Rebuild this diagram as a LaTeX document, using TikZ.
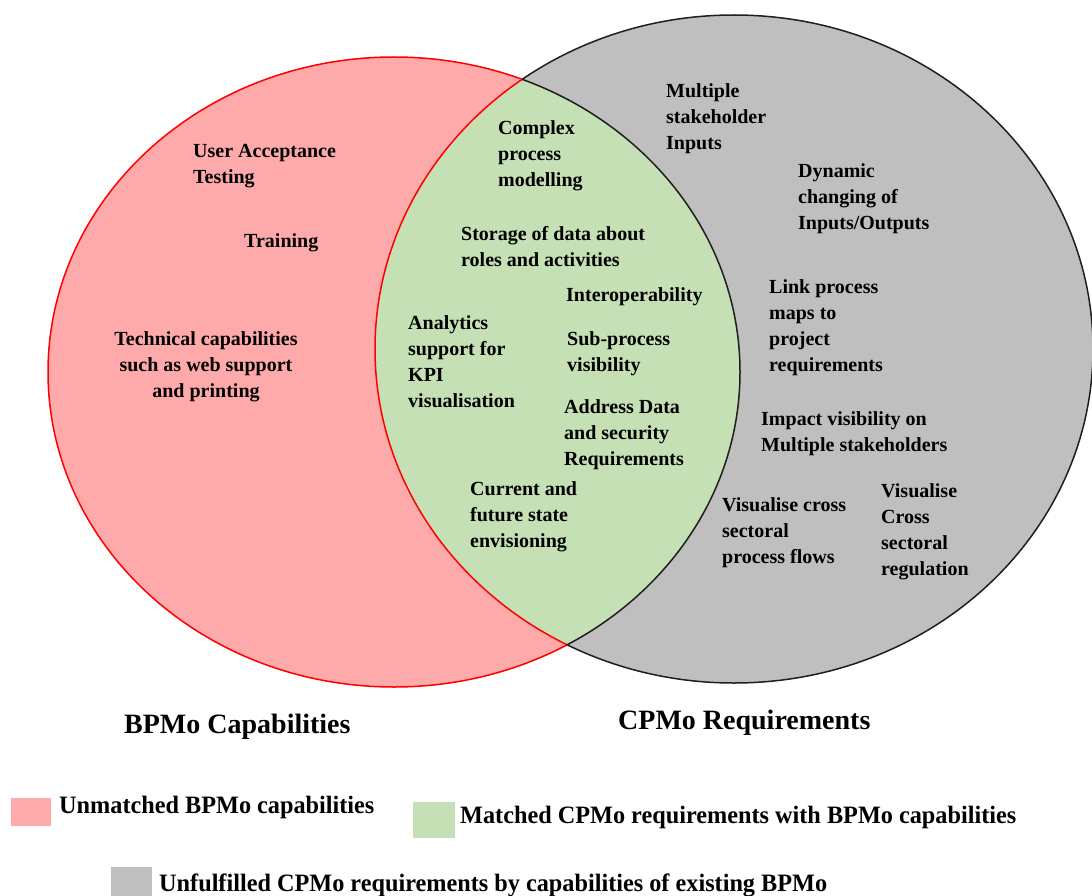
\documentclass[tikz,border=0pt]{standalone}
\usepackage{fontspec}
\setmainfont{Liberation Serif}
\definecolor{pinkc}{RGB}{255,170,170}
\definecolor{greenc}{RGB}{197,224,180}
\definecolor{grayc}{RGB}{191,191,191}
\definecolor{darkc}{RGB}{30,30,30}
\begin{document}
\begin{tikzpicture}[x=1pt,y=-1pt,
  edge/.style={line width=1.5pt},
  lbl/.style={anchor=north west, inner sep=0pt, align=left, font=\bfseries\fontsize{20}{26}\selectfont},
  lblc/.style={anchor=north, inner sep=0pt, align=center, font=\bfseries\fontsize{20}{26}\selectfont},
  title/.style={anchor=base west, inner sep=0pt, font=\bfseries\fontsize{28}{32}\selectfont},
  legtxt/.style={anchor=base west, inner sep=0pt, font=\bfseries\fontsize{25}{30}\selectfont\addfontfeature{FakeStretch=0.97}},
  swatch/.style={inner sep=0pt, draw=none}]
\useasboundingbox (0,0) rectangle (1092,896);
% filled sets
\fill[pinkc] (394,372) ellipse [x radius=346pt, y radius=315pt];
\fill[grayc] (734,349) ellipse [x radius=359pt, y radius=334pt];
\begin{scope}
  \clip (394,372) ellipse [x radius=346pt, y radius=315pt];
  \fill[greenc] (734,349) ellipse [x radius=359pt, y radius=334pt];
  \draw[edge, red] (734,349) ellipse [x radius=359pt, y radius=334pt];
\end{scope}
\begin{scope}
  \clip (734,349) ellipse [x radius=359pt, y radius=334pt];
  \draw[edge, darkc] (394,372) ellipse [x radius=346pt, y radius=315pt];
\end{scope}
\begin{scope}[even odd rule]
  \clip (-10,-10) rectangle (1100,900) (734,349) ellipse [x radius=359pt, y radius=334pt];
  \draw[edge, red] (394,372) ellipse [x radius=346pt, y radius=315pt];
\end{scope}
\begin{scope}[even odd rule]
  \clip (-10,-10) rectangle (1100,900) (394,372) ellipse [x radius=346pt, y radius=315pt];
  \draw[edge, darkc] (734,349) ellipse [x radius=359pt, y radius=334pt];
\end{scope}
% BPMo only
\node[lbl] (uat) at (193,144) {User Acceptance\\Testing};
\node[lbl] (train) at (244,233) {Training};
\node[lblc] (tech) at (206,331) {Technical capabilities\\such as web support\\and printing};
% intersection
\node[lbl] (cpm) at (498,120) {Complex\\process\\modelling};
\node[lbl] (stor) at (461,226) {Storage of data about\\roles and activities};
\node[lbl] (inter) at (566,287) {Interoperability};
\node[lbl] (anal) at (408,315) {Analytics\\support for\\KPI\\visualisation};
\node[lbl] (sub) at (567,331) {Sub-process\\visibility};
\node[lbl] (addr) at (564,399) {Address Data\\and security\\Requirements};
\node[lbl] (curr) at (470,481) {Current and\\future state\\envisioning};
% CPMo only
\node[lbl] (mult) at (666,83) {Multiple\\stakeholder\\Inputs};
\node[lbl] (dyn) at (798,163) {Dynamic\\changing of\\Inputs/Outputs};
\node[lbl] (link) at (769,279) {Link process\\maps to\\project\\requirements};
\node[lbl] (imp) at (761,411) {Impact visibility on\\Multiple stakeholders};
\node[lbl] (vcf) at (722,497) {Visualise cross\\sectoral\\process flows};
\node[lbl] (vcr) at (881,483) {Visualise\\Cross\\sectoral\\regulation};
% titles
\node[title] (tb) at (124,733) {BPMo Capabilities};
\node[title] (tc) at (618,729) {CPMo Requirements};
% legend
\node[swatch, fill=pinkc, minimum width=40pt, minimum height=28pt, anchor=north west] (s1) at (11,798) {};
\node[legtxt] (l1) at (59,813) {Unmatched BPMo capabilities};
\node[swatch, fill=greenc, minimum width=42pt, minimum height=36pt, anchor=north west] (s2) at (413,802) {};
\node[legtxt] (l2) at (460,823) {Matched CPMo requirements with BPMo capabilities};
\node[swatch, fill=grayc, minimum width=41pt, minimum height=30pt, anchor=north west] (s3) at (111,867) {};
\node[legtxt] (l3) at (159,891) {Unfulfilled CPMo requirements by capabilities of existing BPMo};
\end{tikzpicture}
\end{document}
